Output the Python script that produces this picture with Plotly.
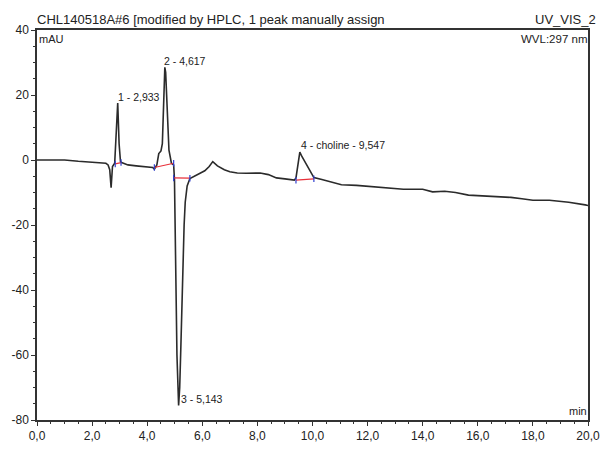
import plotly.graph_objects as go

# ---- data ----
time_min = [0, 0.5, 1.0, 1.5, 1.83, 2.2, 2.5, 2.58, 2.64, 2.69, 2.74, 2.82, 2.88, 2.93, 2.98, 3.03,
            3.07, 3.3, 3.6, 3.9, 4.08, 4.2, 4.26, 4.35, 4.42, 4.5, 4.55, 4.6, 4.64, 4.67, 4.72,
            4.79, 4.88, 4.96, 4.99, 5.03, 5.08, 5.14, 5.18, 5.22, 5.26, 5.3, 5.34, 5.38, 5.45,
            5.55, 5.7, 5.9, 6.09, 6.25, 6.38, 6.55, 6.8, 7.0, 7.27, 7.6, 8.1, 8.4, 8.69, 9.0,
            9.34, 9.4, 9.47, 9.54, 9.62, 9.72, 9.87, 10.05, 10.34, 10.82, 11.05, 11.6, 12.23,
            12.8, 13.3, 14.0, 14.36, 14.8, 15.19, 15.66, 16.25, 16.7, 17.2, 17.6, 18.0, 18.6,
            19.3, 19.9, 20.0]
signal_mau = [0, 0, 0, -0.4, -0.6, -0.8, -1.0, -1.5, -3, -8.5, -2, -1, 8, 17.5, 5, -0.5,
              -0.8, -1.5, -1.8, -2, -2, -2.3, -2.8, -1.5, 2, 2.8, 5, 22, 28.5, 27, 15,
              3, -1, -1.5, -6, -30, -60, -75.5, -70, -58, -45, -30, -20, -13, -8,
              -5.7, -5, -4.2, -3.3, -2, -0.5, -1.8, -3, -3.6, -4, -4.1, -4, -4.5, -5.5, -5.8,
              -6.2, -5.5, -1, 2.4, 1, -0.5, -2.8, -5.4, -6, -7, -7.6, -7.8, -8.3,
              -8.6, -9.0, -9.0, -9.8, -9.6, -10.0, -10.8, -11.0, -11.2, -11.5, -11.9, -12.4, -12.4,
              -13.0, -13.8, -14]

# integration baselines (start time, start mAU, end time, end mAU)
base_t0 = [2.84, 4.26, 4.96, 9.40]
base_y0 = [-1.2, -2.3, -5.5, -6.2]
base_t1 = [3.05, 4.96, 5.55, 10.05]
base_y1 = [-0.8, -1.0, -5.6, -5.8]

# peak labels
peak_labels = ["1 - 2,933", "2 - 4,617", "3 - 5,143", "4 - choline - 9,547"]
peak_label_t = [2.87, 4.53, 5.14, 9.50]
peak_label_y = [19.4, 30.5, -73.4, 4.6]

x_tick_vals = [0, 2, 4, 6, 8, 10, 12, 14, 16, 18, 20]
x_tick_text = ["0,0", "2,0", "4,0", "6,0", "8,0", "10,0", "12,0", "14,0", "16,0", "18,0", "20,0"]
y_tick_vals = [-80, -60, -40, -20, 0, 20, 40]
y_tick_text = ["-80", "-60", "-40", "-20", "0", "20", "40"]

title_left = "CHL140518A#6 [modified by HPLC, 1 peak manually assign"
title_right = "UV_VIS_2"
y_unit = "mAU"
wavelength = "WVL:297 nm"
x_unit = "min"

FONT = "Liberation Sans, Arial, sans-serif"

fig = go.Figure()
fig.add_trace(go.Scatter(x=time_min, y=signal_mau, mode="lines",
                         line=dict(color="#2b2b2b", width=1.6), hoverinfo="skip"))
for t0, y0, t1, y1 in zip(base_t0, base_y0, base_t1, base_y1):
    fig.add_trace(go.Scatter(x=[t0, t1], y=[y0, y1], mode="lines",
                             line=dict(color="#e8303a", width=1.2), hoverinfo="skip"))
    for tt, yy in ((t0, y0), (t1, y1)):
        fig.add_trace(go.Scatter(x=[tt, tt], y=[yy - 1.0, yy + 1.0], mode="lines",
                                 line=dict(color="#3040d0", width=1.2), hoverinfo="skip"))

annotations = []
for txt, t, y in zip(peak_labels, peak_label_t, peak_label_y):
    annotations.append(dict(x=t, y=y, xref="x", yref="y", text=txt, showarrow=False,
                            xanchor="left", yanchor="middle",
                            font=dict(family=FONT, size=10.5, color="#222")))

def px_x(p):
    return (p - 35) / 564.0

def px_y(p):
    return (432 - p) / 402.0

annotations += [
    dict(x=px_x(33), y=px_y(19), xref="paper", yref="paper", text=title_left, showarrow=False,
         xanchor="left", yanchor="middle", font=dict(family=FONT, size=13, color="#222")),
    dict(x=px_x(543), y=px_y(19), xref="paper", yref="paper", text=title_right, showarrow=False,
         xanchor="left", yanchor="middle", font=dict(family=FONT, size=13, color="#222")),
    dict(x=px_x(35), y=px_y(39), xref="paper", yref="paper", text=y_unit, showarrow=False,
         xanchor="left", yanchor="middle", font=dict(family=FONT, size=11, color="#222")),
    dict(x=px_x(600), y=px_y(39), xref="paper", yref="paper", text=wavelength, showarrow=False,
         xanchor="right", yanchor="middle", font=dict(family=FONT, size=11.5, color="#222")),
    dict(x=px_x(600), y=px_y(423), xref="paper", yref="paper", text=x_unit, showarrow=False,
         xanchor="right", yanchor="middle", font=dict(family=FONT, size=11, color="#222")),
]

fig.update_layout(
    width=612, height=455,
    margin=dict(l=35, r=13, t=30, b=23),
    paper_bgcolor="white", plot_bgcolor="white",
    showlegend=False,
    annotations=annotations,
    font=dict(family=FONT, size=12, color="#222"),
)
fig.update_xaxes(range=[0, 20], tickvals=x_tick_vals, ticktext=x_tick_text,
                 showgrid=False, zeroline=False, showline=True, mirror=True,
                 linecolor="#333", linewidth=1.5, ticks="outside", ticklen=4,
                 tickcolor="#333", tickfont=dict(family=FONT, size=12, color="#222"),
                 minor=dict(dtick=0.5, ticks="outside", ticklen=2, tickcolor="#333"))
fig.update_yaxes(range=[-80, 40], tickvals=y_tick_vals, ticktext=y_tick_text,
                 showgrid=False, zeroline=False, showline=True, mirror=True,
                 linecolor="#333", linewidth=1.5, ticks="outside", ticklen=4,
                 tickcolor="#333", tickfont=dict(family=FONT, size=12, color="#222"),
                 minor=dict(dtick=5, ticks="outside", ticklen=2, tickcolor="#333"))

fig.write_html("out.html")
